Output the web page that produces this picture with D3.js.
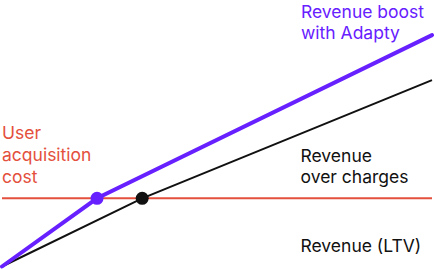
<!DOCTYPE html>
<html>
<head>
<meta charset="utf-8">
<script src="https://cdn.jsdelivr.net/npm/d3@7"></script>
<style>
  body { margin: 0; background: #fff; }
  text { font-family: Inter, "Noto Sans", sans-serif; }
</style>
</head>
<body>
<div id="chart"></div>
<script>
// chart data (arbitrary units: time on x, money on y)
var ltvX = [0, 3.26, 10];
var ltvY = [0, 3, 8.2];
var boostX = [0, 2.21, 10];
var boostY = [0, 3, 10.18];
var acquisitionCost = 3;

var svgWidth = 434;
var svgHeight = 270;

var svg = d3.select("#chart")
    .append("svg")
    .attr("width", svgWidth)
    .attr("height", svgHeight);

var xScale = d3.scaleLinear()
    .domain([0, 10])
    .range([2, 432]);

var yScale = d3.scaleLinear()
    .domain([0, 10])
    .range([266.5, 39.2]);

var ltvData = ltvX.map((x, i) => ({ x: x, y: ltvY[i] }));
var boostData = boostX.map((x, i) => ({ x: x, y: boostY[i] }));

var line = d3.line()
    .x(d => xScale(d.x))
    .y(d => yScale(d.y));

// acquisition cost line
svg.append("line")
    .attr("x1", xScale(0))
    .attr("x2", xScale(10))
    .attr("y1", yScale(acquisitionCost))
    .attr("y2", yScale(acquisitionCost))
    .attr("stroke", "#e4503d")
    .attr("stroke-width", 2);

// revenue line
svg.append("path")
    .datum(ltvData)
    .attr("d", line)
    .attr("fill", "none")
    .attr("stroke", "#111")
    .attr("stroke-width", 2);

// boosted revenue line
svg.append("path")
    .datum(boostData)
    .attr("d", line)
    .attr("fill", "none")
    .attr("stroke", "#6720ff")
    .attr("stroke-width", 4)
    .attr("stroke-linecap", "round");

// break-even points
svg.append("circle")
    .attr("cx", xScale(boostX[1]))
    .attr("cy", yScale(boostY[1]))
    .attr("r", 6.5)
    .attr("fill", "#6720ff");

svg.append("circle")
    .attr("cx", xScale(ltvX[1]))
    .attr("cy", yScale(ltvY[1]))
    .attr("r", 6.5)
    .attr("fill", "#111");

// labels
function addLabel(lines, x, y, color) {
    var t = svg.append("text")
        .attr("x", x)
        .attr("y", y)
        .attr("fill", color)
        .attr("font-size", 17.5);
    lines.forEach(function(s, i) {
        t.append("tspan")
            .attr("x", x)
            .attr("dy", i === 0 ? 0 : 21.8)
            .text(s);
    });
}

addLabel(["Revenue boost", "with Adapty"], 301, 17.5, "#6720ff");
addLabel(["User", "acquisition", "cost"], 2, 139, "#e4503d");
addLabel(["Revenue", "over charges"], 300.5, 161.5, "#111");
addLabel(["Revenue (LTV)"], 300.5, 251.5, "#111");
</script>
</body>
</html>
